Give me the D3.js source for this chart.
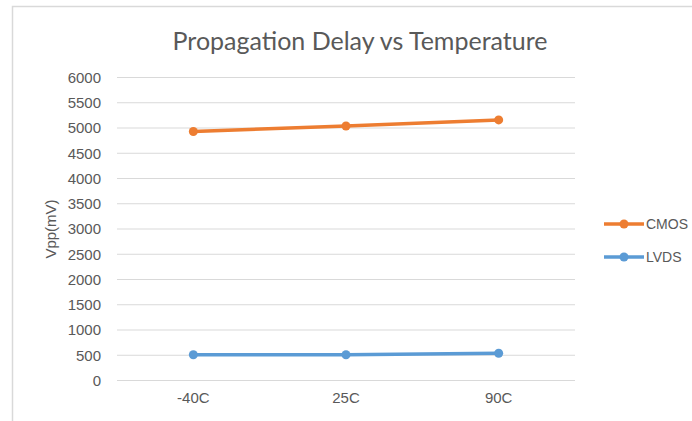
<!DOCTYPE html>
<meta charset="utf-8">
<script src="https://d3js.org/d3.v7.min.js"></script>
<style>
  body { margin: 0; background: #fff; }
</style>
<div id="my_dataviz"></div>
<script>
    // data
    var temps = ["-40C", "25C", "90C"]
    var cmos = [4930, 5040, 5160]
    var lvds = [510, 510, 540]
    var yTicks = [0, 500, 1000, 1500, 2000, 2500, 3000, 3500, 4000, 4500, 5000, 5500, 6000]

    var series = [
        { name: "CMOS", values: cmos, color: "#ED7D31" },
        { name: "LVDS", values: lvds, color: "#5B9BD5" }
    ]

    var width = 692, height = 421
    var plot = { left: 117, right: 575, top: 77.5, bottom: 380.5 }

    var svg = d3.select("#my_dataviz")
        .append("svg")
        .attr("width", width)
        .attr("height", height)

    // thin frame on top and left
    svg.append("path")
        .attr("d", "M12.5,421 L12.5,6.5 L692,6.5")
        .attr("fill", "none")
        .attr("stroke", "#d9d9d9")
        .attr("stroke-width", 1.5)

    var x = d3.scaleBand().domain(temps).range([plot.left, plot.right])
    var y = d3.scaleLinear().domain([0, 6000]).range([plot.bottom, plot.top])

    // gridlines
    svg.selectAll(".grid")
        .data(yTicks)
        .enter()
        .append("line")
        .attr("x1", plot.left)
        .attr("x2", plot.right)
        .attr("y1", function(d) { return y(d) })
        .attr("y2", function(d) { return y(d) })
        .attr("stroke", "#d9d9d9")
        .attr("stroke-width", 1)

    // y axis labels
    var yAxis = d3.axisLeft(y).tickValues(yTicks).tickFormat(d3.format("d")).tickSize(0).tickPadding(0)
    var gy = svg.append("g")
        .attr("transform", "translate(101,0)")
        .call(yAxis)
    gy.select(".domain").remove()
    gy.selectAll("text")
        .attr("fill", "#595959")
        .style("font-family", "Liberation Sans, Arial, sans-serif")
        .style("font-size", "15px")

    // x axis labels
    var xAxis = d3.axisBottom(x).tickSize(0).tickPadding(0)
    var gx = svg.append("g")
        .attr("transform", "translate(0,392)")
        .call(xAxis)
    gx.select(".domain").remove()
    gx.selectAll("text")
        .attr("fill", "#595959")
        .style("font-family", "Liberation Sans, Arial, sans-serif")
        .style("font-size", "15px")

    // title
    svg.append("text")
        .attr("x", 360)
        .attr("y", 50)
        .attr("text-anchor", "middle")
        .attr("fill", "#595959")
        .style("font-family", "Lato, sans-serif")
        .style("font-weight", 400)
        .style("font-size", "25px")
        .text("Propagation Delay vs Temperature")

    // y axis title
    svg.append("text")
        .attr("transform", "translate(56,229) rotate(-90)")
        .attr("text-anchor", "middle")
        .attr("fill", "#595959")
        .style("font-family", "Liberation Sans, Arial, sans-serif")
        .style("font-size", "15px")
        .text("Vpp(mV)")

    var line = d3.line()
        .x(function(d, i) { return x(temps[i]) + x.bandwidth() / 2 })
        .y(function(d) { return y(d) })

    series.forEach(function(s) {
        svg.append("path")
            .datum(s.values)
            .attr("d", line)
            .attr("fill", "none")
            .attr("stroke", s.color)
            .attr("stroke-width", 3.5)
            .attr("stroke-linecap", "round")

        svg.selectAll(null)
            .data(s.values)
            .enter()
            .append("circle")
            .attr("cx", function(d, i) { return x(temps[i]) + x.bandwidth() / 2 })
            .attr("cy", function(d) { return y(d) })
            .attr("r", 4.5)
            .attr("fill", s.color)
    })

    // legend
    var legend = svg.selectAll(".legend")
        .data(series)
        .enter()
        .append("g")
        .attr("transform", function(d, i) { return "translate(604," + (224 + i * 33) + ")" })

    legend.append("line")
        .attr("x1", 0).attr("x2", 40)
        .attr("stroke", function(d) { return d.color })
        .attr("stroke-width", 3.5)
    legend.append("circle")
        .attr("cx", 20)
        .attr("r", 4.5)
        .attr("fill", function(d) { return d.color })
    legend.append("text")
        .attr("x", 42)
        .attr("dy", "0.35em")
        .attr("fill", "#595959")
        .style("font-family", "Liberation Sans Narrow, Liberation Sans, Arial, sans-serif")
        .style("font-size", "14px")
        .text(function(d) { return d.name })
</script>
